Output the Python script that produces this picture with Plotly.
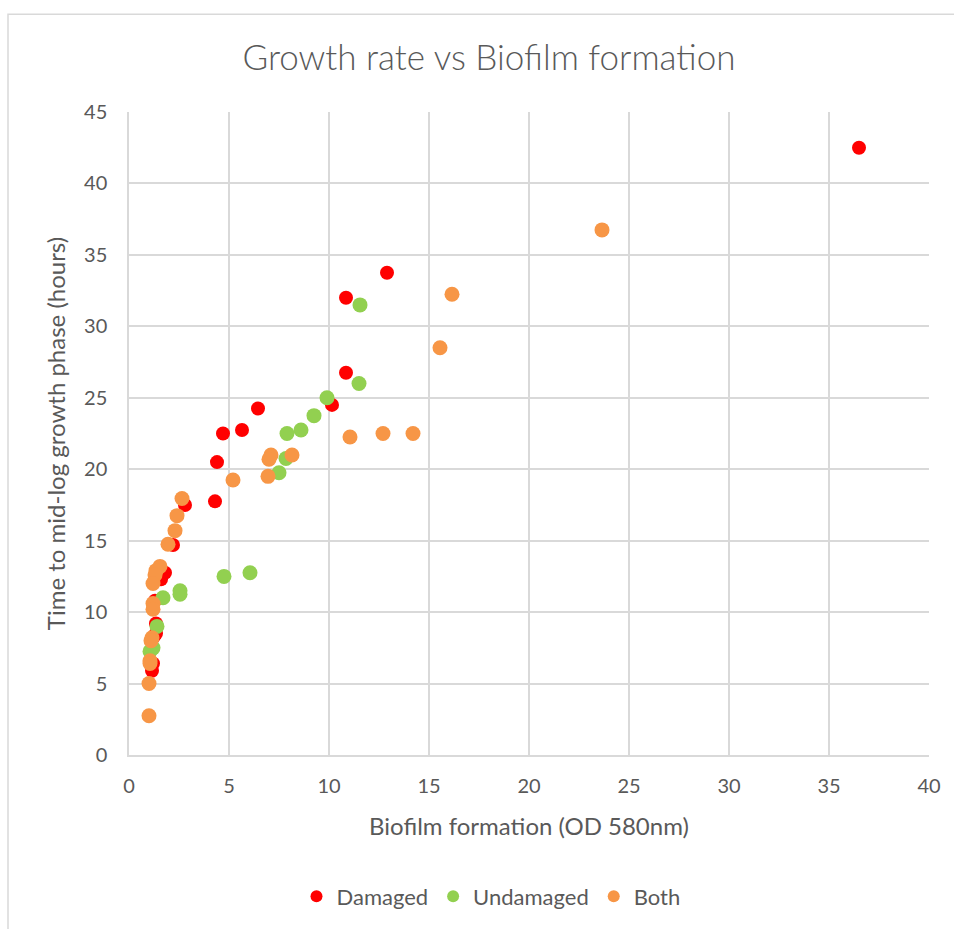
import plotly.graph_objects as go

damaged_x = [36.5, 12.9, 10.85, 10.85, 10.15, 6.45, 5.65, 4.7, 4.4, 4.3, 2.8, 2.2, 1.8, 1.6, 1.3, 1.35, 1.25, 1.35, 1.2, 1.15]
damaged_y = [42.5, 33.75, 32.0, 26.75, 24.5, 24.25, 22.75, 22.5, 20.5, 17.75, 17.5, 14.7, 12.75, 12.3, 10.8, 9.2, 8.3, 8.5, 6.4, 5.9]

undamaged_x = [11.55, 11.5, 9.9, 9.25, 8.6, 7.9, 7.85, 7.5, 6.05, 4.75, 2.55, 2.55, 1.7, 1.4, 1.2, 1.05]
undamaged_y = [31.5, 26.0, 25.0, 23.75, 22.75, 22.5, 20.75, 19.75, 12.75, 12.5, 11.5, 11.25, 11.0, 9.0, 7.5, 7.25]

both_x = [23.65, 16.15, 15.55, 14.2, 12.7, 11.05, 8.15, 7.1, 7.0, 6.95, 5.2, 2.65, 2.4, 2.3, 1.95,
          1.55, 1.35, 1.3, 1.2, 1.2, 1.2, 1.15, 1.1, 1.05, 1.05, 1.0, 1.0]
both_y = [36.75, 32.25, 28.5, 22.5, 22.5, 22.25, 21.0, 21.0, 20.7, 19.5, 19.25, 17.95, 16.75, 15.7, 14.75,
          13.2, 12.9, 12.6, 12.0, 10.6, 10.2, 8.2, 8.0, 6.6, 6.4, 5.0, 2.75]

x_ticks = [0, 5, 10, 15, 20, 25, 30, 35, 40]
y_ticks = [0, 5, 10, 15, 20, 25, 30, 35, 40, 45]

font_family = "Lato, 'Open Sans', sans-serif"
text_color = "#595959"
grid_color = "#d9d9d9"

fig = go.Figure()
fig.add_trace(go.Scatter(x=damaged_x, y=damaged_y, mode="markers", name="Damaged",
                         marker=dict(color="#FF0000", size=14)))
fig.add_trace(go.Scatter(x=undamaged_x, y=undamaged_y, mode="markers", name="Undamaged",
                         marker=dict(color="#92D050", size=15)))
fig.add_trace(go.Scatter(x=both_x, y=both_y, mode="markers", name="Both",
                         marker=dict(color="#F79646", size=15)))

fig.update_layout(
    width=954, height=929,
    margin=dict(l=129, r=25, t=112, b=172),
    paper_bgcolor="white", plot_bgcolor="white",
    font=dict(family=font_family, color=text_color, size=20),
    title=dict(text="Growth rate vs Biofilm formation", x=0.45, xref="paper", xanchor="center",
               y=(929 - 58) / 929, yref="container", yanchor="middle",
               font=dict(size=35, color=text_color, family=font_family, weight=300)),
    showlegend=True,
    legend=dict(orientation="h", x=0.4525, xanchor="center", y=-0.22, yanchor="middle",
                font=dict(size=22, color=text_color), itemsizing="constant"),
    xaxis=dict(range=[0, 40], tickvals=x_ticks, ticktext=[str(v) for v in x_ticks],
               showgrid=True, gridcolor=grid_color, gridwidth=1.5, zeroline=False,
               showline=True, linecolor=grid_color, linewidth=1.5, ticks="",
               tickfont=dict(size=20, color=text_color), ticklabelstandoff=12,
               title=dict(text="Biofilm formation (OD 580nm)", font=dict(size=24, color=text_color), standoff=22)),
    yaxis=dict(range=[0, 45], tickvals=y_ticks, ticktext=[str(v) for v in y_ticks],
               showgrid=True, gridcolor=grid_color, gridwidth=1.5, zeroline=False,
               showline=True, linecolor=grid_color, linewidth=1.5, ticks="",
               tickfont=dict(size=20, color=text_color), ticklabelstandoff=16,
               title=dict(text="Time to mid-log growth phase (hours)", font=dict(size=24, color=text_color), standoff=12)),
    shapes=[dict(type="rect", xref="paper", yref="paper",
                 x0=(8 - 129) / 800, x1=1.2, y0=-0.5, y1=(757 - 14) / 645,
                 line=dict(color=grid_color, width=1.5), fillcolor="rgba(0,0,0,0)", layer="below")],
)

fig.write_html("out.html")
